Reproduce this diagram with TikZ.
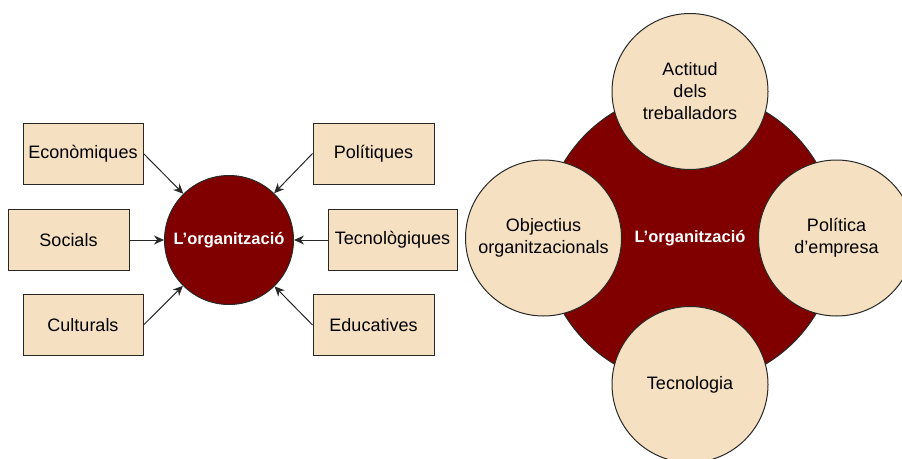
\documentclass[tikz,border=0pt]{standalone}
\usepackage{fontspec}
\setmainfont{Liberation Sans}
\usetikzlibrary{arrows.meta}
\definecolor{maroon}{RGB}{128,0,0}
\definecolor{sand}{RGB}{245,224,193}
\definecolor{edge}{RGB}{40,40,40}
\begin{document}
\begin{tikzpicture}[x=1pt,y=-1pt,
  factor/.style={draw=edge,line width=1pt,fill=sand,inner sep=0pt,
    minimum height=61pt,font=\fontsize{18}{22}\selectfont},
  hub/.style={circle,draw=edge,line width=1pt,fill=maroon,inner sep=0pt,
    text=white,font=\bfseries\fontsize{16.5}{20}\selectfont},
  petal/.style={circle,draw=edge,line width=1pt,fill=sand,inner sep=0pt,
    minimum size=156pt,align=center,font=\fontsize{18}{22}\selectfont},
  push/.style={-{Stealth[length=10pt,width=9pt]},line width=1pt,draw=edge}]
\useasboundingbox (0,0) rectangle (902,458);
\clip (0,0) rectangle (902,458);
\fill[white] (0,0) rectangle (902,458);

% left: external influences on the organisation
\node[hub,minimum size=129pt] (org) at (229,240) {L’organització};
\node[factor,minimum width=120pt] (eco) at (83,153.5) {Econòmiques};
\node[factor,minimum width=121pt] (soc) at (68.5,240) {Socials};
\node[factor,minimum width=120pt] (cul) at (83,325) {Culturals};
\node[factor,minimum width=121pt] (pol) at (373.5,153.5) {Polítiques};
\node[factor,minimum width=129pt] (tec) at (392.5,240) {Tecnològiques};
\node[factor,minimum width=121pt] (edu) at (373.5,325) {Educatives};

\draw[push] (eco.east) -- (org);
\draw[push] (soc.east) -- (org);
\draw[push] (cul.east) -- (org);
\draw[push] (pol.west) -- (org);
\draw[push] (tec.west) -- (org);
\draw[push] (edu.west) -- (org);

% right: internal factors around the organisation
\node[hub,minimum size=294pt] (core) at (690,238) {L’organització};
\node[petal] (act) at (690,91.5) {Actitud\\dels\\treballadors};
\node[petal] (obj) at (543.5,238) {Objectius\\organitzacionals};
\node[petal] (emp) at (836.5,238) {Política\\d’empresa};
\node[petal] (tcn) at (690,384.5) {Tecnologia};
\end{tikzpicture}
\end{document}
